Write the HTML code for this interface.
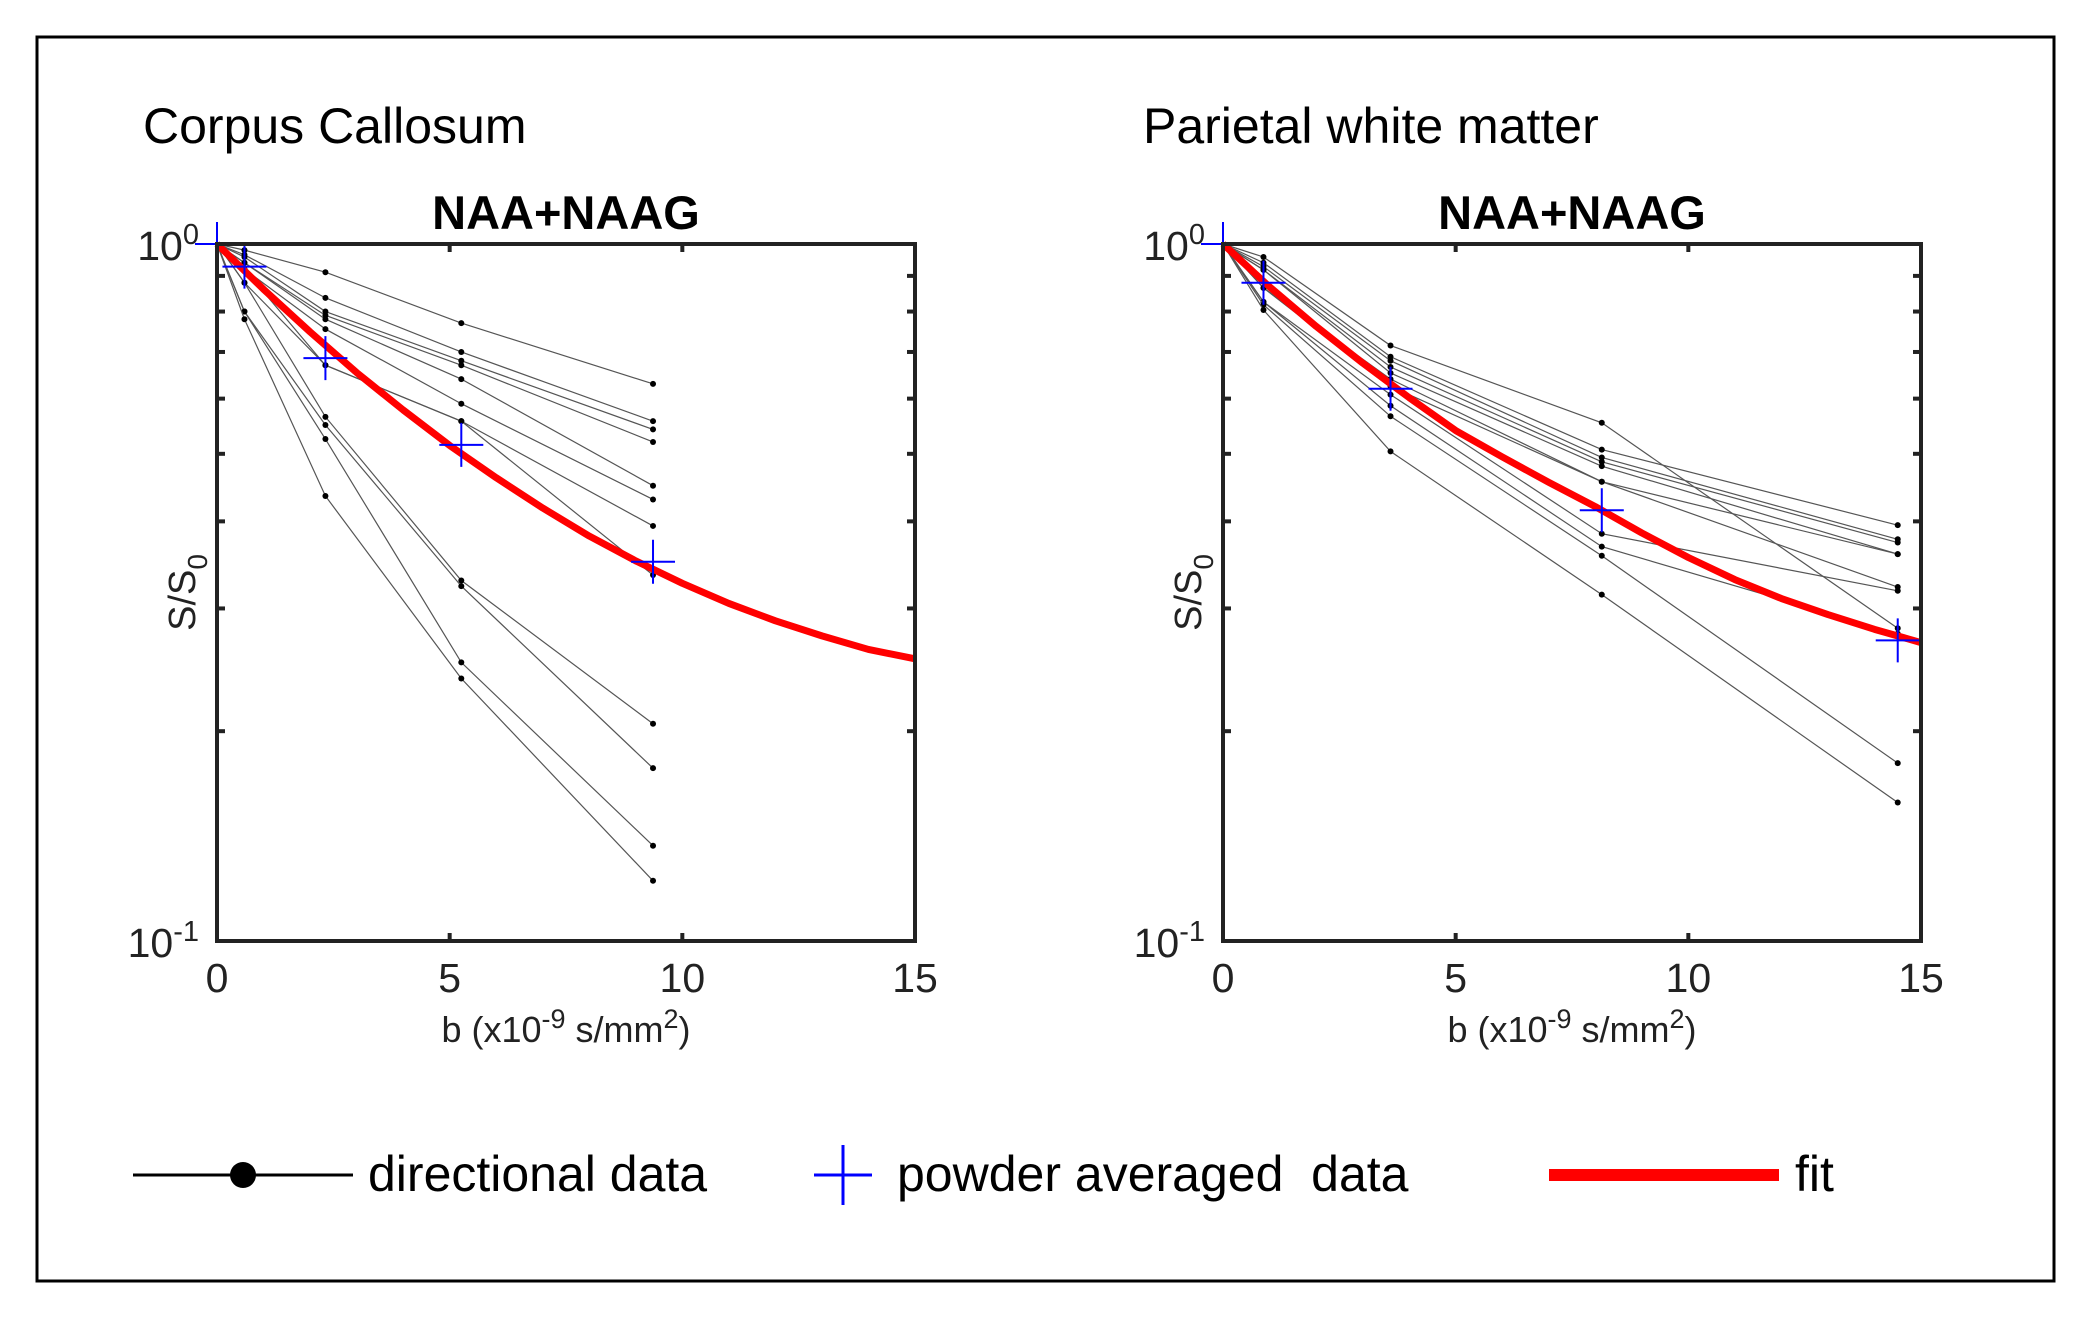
<!DOCTYPE html>
<html><head><meta charset="utf-8"><style>
html,body{margin:0;padding:0;background:#fff;}
svg{display:block;font-family:"Liberation Sans",Arial,sans-serif;}
</style></head><body>
<svg id="fig" width="2090" height="1317" viewBox="0 0 2090 1317" xmlns="http://www.w3.org/2000/svg">
<rect x="37" y="37" width="2017" height="1244" fill="#fff" stroke="#000" stroke-width="3"/>
<text x="143" y="143" font-size="50">Corpus Callosum</text>
<text x="1143" y="143" font-size="50">Parietal white matter</text>
<g id="legend">
<g>
<line x1="133" y1="1175" x2="353" y2="1175" stroke="#000" stroke-width="3"/>
<circle cx="243" cy="1175" r="13" fill="#000"/>
<text x="368" y="1191" font-size="50">directional data</text></g>
<g>
<line x1="814" y1="1175" x2="872" y2="1175" stroke="#0000ff" stroke-width="3"/>
<line x1="843" y1="1145" x2="843" y2="1205" stroke="#0000ff" stroke-width="3"/>
<text x="897" y="1191" font-size="50">powder averaged&#160; data</text></g>
<g>
<line x1="1549" y1="1175" x2="1779" y2="1175" stroke="#ff0000" stroke-width="12"/>
<text x="1795" y="1191" font-size="50">fit</text></g>
</g>
</svg>
<script>
// ---- Left panel data (Corpus Callosum) ----
const leftB = [0, 0.59, 2.33, 5.25, 9.37];
const leftSeries = [
 [1, 0.98, 0.911, 0.77, 0.63],
 [1, 0.965, 0.837, 0.70, 0.557],
 [1, 0.958, 0.80, 0.68, 0.542],
 [1, 0.94, 0.79, 0.67, 0.52],
 [1, 0.94, 0.78, 0.64, 0.45],
 [1, 0.92, 0.755, 0.59, 0.43],
 [1, 0.92, 0.67, 0.557, 0.394],
 [1, 0.88, 0.67, 0.557, 0.335],
 [1, 0.88, 0.565, 0.329, 0.205],
 [1, 0.80, 0.55, 0.323, 0.177],
 [1, 0.80, 0.525, 0.251, 0.137],
 [1, 0.78, 0.435, 0.238, 0.122]
];
const leftPowder = [1, 0.928, 0.686, 0.515, 0.35];
const leftFitB = [0,1,2,3,4,5,6,7,8,9,10,11,12,13,14,15];
const leftFitV = [1,0.861,0.748,0.654,0.578,0.514,0.462,0.418,0.381,0.351,0.326,0.305,0.288,0.274,0.262,0.254];
// ---- Right panel data (Parietal white matter) ----
const rightB = [0, 0.87, 3.6, 8.14, 14.5];
const rightSeries = [
 [1, 0.958, 0.715, 0.554, 0.281],
 [1, 0.94, 0.689, 0.507, 0.395],
 [1, 0.928, 0.68, 0.494, 0.377],
 [1, 0.918, 0.666, 0.487, 0.373],
 [1, 0.918, 0.653, 0.48, 0.359],
 [1, 0.865, 0.64, 0.456, 0.359],
 [1, 0.865, 0.625, 0.456, 0.322],
 [1, 0.826, 0.608, 0.384, 0.318],
 [1, 0.826, 0.586, 0.368, 0.276],
 [1, 0.818, 0.566, 0.357, 0.18],
 [1, 0.804, 0.504, 0.314, 0.158]
];
const rightPowder = [1, 0.88, 0.62, 0.415, 0.27];
const rightFitB = [0,1,2,3,4,5,6,7,8,9,10,11,12,13,14,15];
const rightFitV = [1,0.868,0.762,0.675,0.602,0.54,0.495,0.455,0.42,0.385,0.355,0.33,0.31,0.294,0.28,0.268];
const xTicks = [0,5,10,15];
const xTickLabels = ["0","5","10","15"];

const NS = "http://www.w3.org/2000/svg";
const svg = document.getElementById('fig');
function mk(tag, attrs, parent){const e=document.createElementNS(NS,tag);for(const k in attrs)e.setAttribute(k,attrs[k]);(parent||svg).appendChild(e);return e;}

function panel(x0, name, B, series, powder, fitB, fitV){
  const x1 = x0 + 698, yT = 244, yB = 941;
  const sx = b => x0 + (b/15)*(x1-x0);
  const sy = v => yT + (-Math.log10(v))*(yB-yT);
  const g = mk('g',{});
  
  
  const t = mk('text',{x:(x0+x1)/2,y:229,'font-size':47,'font-weight':'bold','text-anchor':'middle'},g);
  t.textContent='NAA+NAAG';
  
  
  series.forEach((s,i)=>{
    const pts = s.map((v,j)=>sx(B[j])+','+sy(v)).join(' ');
    const pl = mk('polyline',{points:pts,fill:'none',stroke:'#555','stroke-width':1.2},g);
    
    
    s.forEach((v,j)=>{ if(j>0){
      const c = mk('circle',{cx:sx(B[j]),cy:sy(v),r:3,fill:'#000'},g);
      
      
    }});
  });
  const fp = mk('polyline',{points:fitB.map((b,i)=>sx(b)+','+sy(fitV[i])).join(' '),fill:'none',stroke:'#ff0000','stroke-width':7,'stroke-linejoin':'round'},g);
  
  
  powder.forEach((v,j)=>{
    const px=sx(B[j]), py=sy(v);
    const p = mk('path',{d:`M${px-22},${py}H${px+22}M${px},${py-22}V${py+22}`,stroke:'#0000ff','stroke-width':2},g);
    
    
  });
  const box = mk('rect',{x:x0,y:yT,width:x1-x0,height:yB-yT,fill:'none',stroke:'#222','stroke-width':4},g);
  
  
  xTicks.forEach((b,i)=>{
    const X=sx(b);
    mk('line',{x1:X,y1:yB,x2:X,y2:yB-8,stroke:'#222','stroke-width':4},g);
    mk('line',{x1:X,y1:yT,x2:X,y2:yT+8,stroke:'#222','stroke-width':4},g);
    const tl = mk('text',{x:X,y:992,'font-size':41,'text-anchor':'middle',fill:'#222'},g);
    tl.textContent = xTickLabels[i];
    
    
  });
  for(let m=2;m<=9;m++){
    const Y=sy(m/10);
    mk('line',{x1:x0,y1:Y,x2:x0+8,y2:Y,stroke:'#222','stroke-width':4},g);
    mk('line',{x1:x1,y1:Y,x2:x1-8,y2:Y,stroke:'#222','stroke-width':4},g);
  }
  [[yT,'0'],[yB,'-1']].forEach(([Y,e])=>{
    const tl = mk('text',{x:x0-18,y:Y+16,'font-size':41,'text-anchor':'end',fill:'#222'},g);
    tl.innerHTML = `10<tspan dy="-16" font-size="29">${e}</tspan>`;
    
    
  });
  const xl = mk('text',{x:(x0+x1)/2,y:1042,'font-size':36,'text-anchor':'middle',fill:'#222'},g);
  xl.innerHTML = 'b (x10<tspan dy="-14" font-size="27">-9</tspan><tspan dy="14"> s/mm</tspan><tspan dy="-14" font-size="27">2</tspan><tspan dy="14">)</tspan>';
  
  
  const yl = mk('text',{x:0,y:0,'font-size':38,'text-anchor':'middle',fill:'#222',transform:`translate(${x0-22},${(yT+yB)/2}) rotate(-90)`},g);
  yl.innerHTML = 'S/S<tspan dy="12" font-size="28">0</tspan>';
  
  
}
panel(217,'left',leftB,leftSeries,leftPowder,leftFitB,leftFitV);
panel(1223,'right',rightB,rightSeries,rightPowder,rightFitB,rightFitV);
</script>
</body></html>
